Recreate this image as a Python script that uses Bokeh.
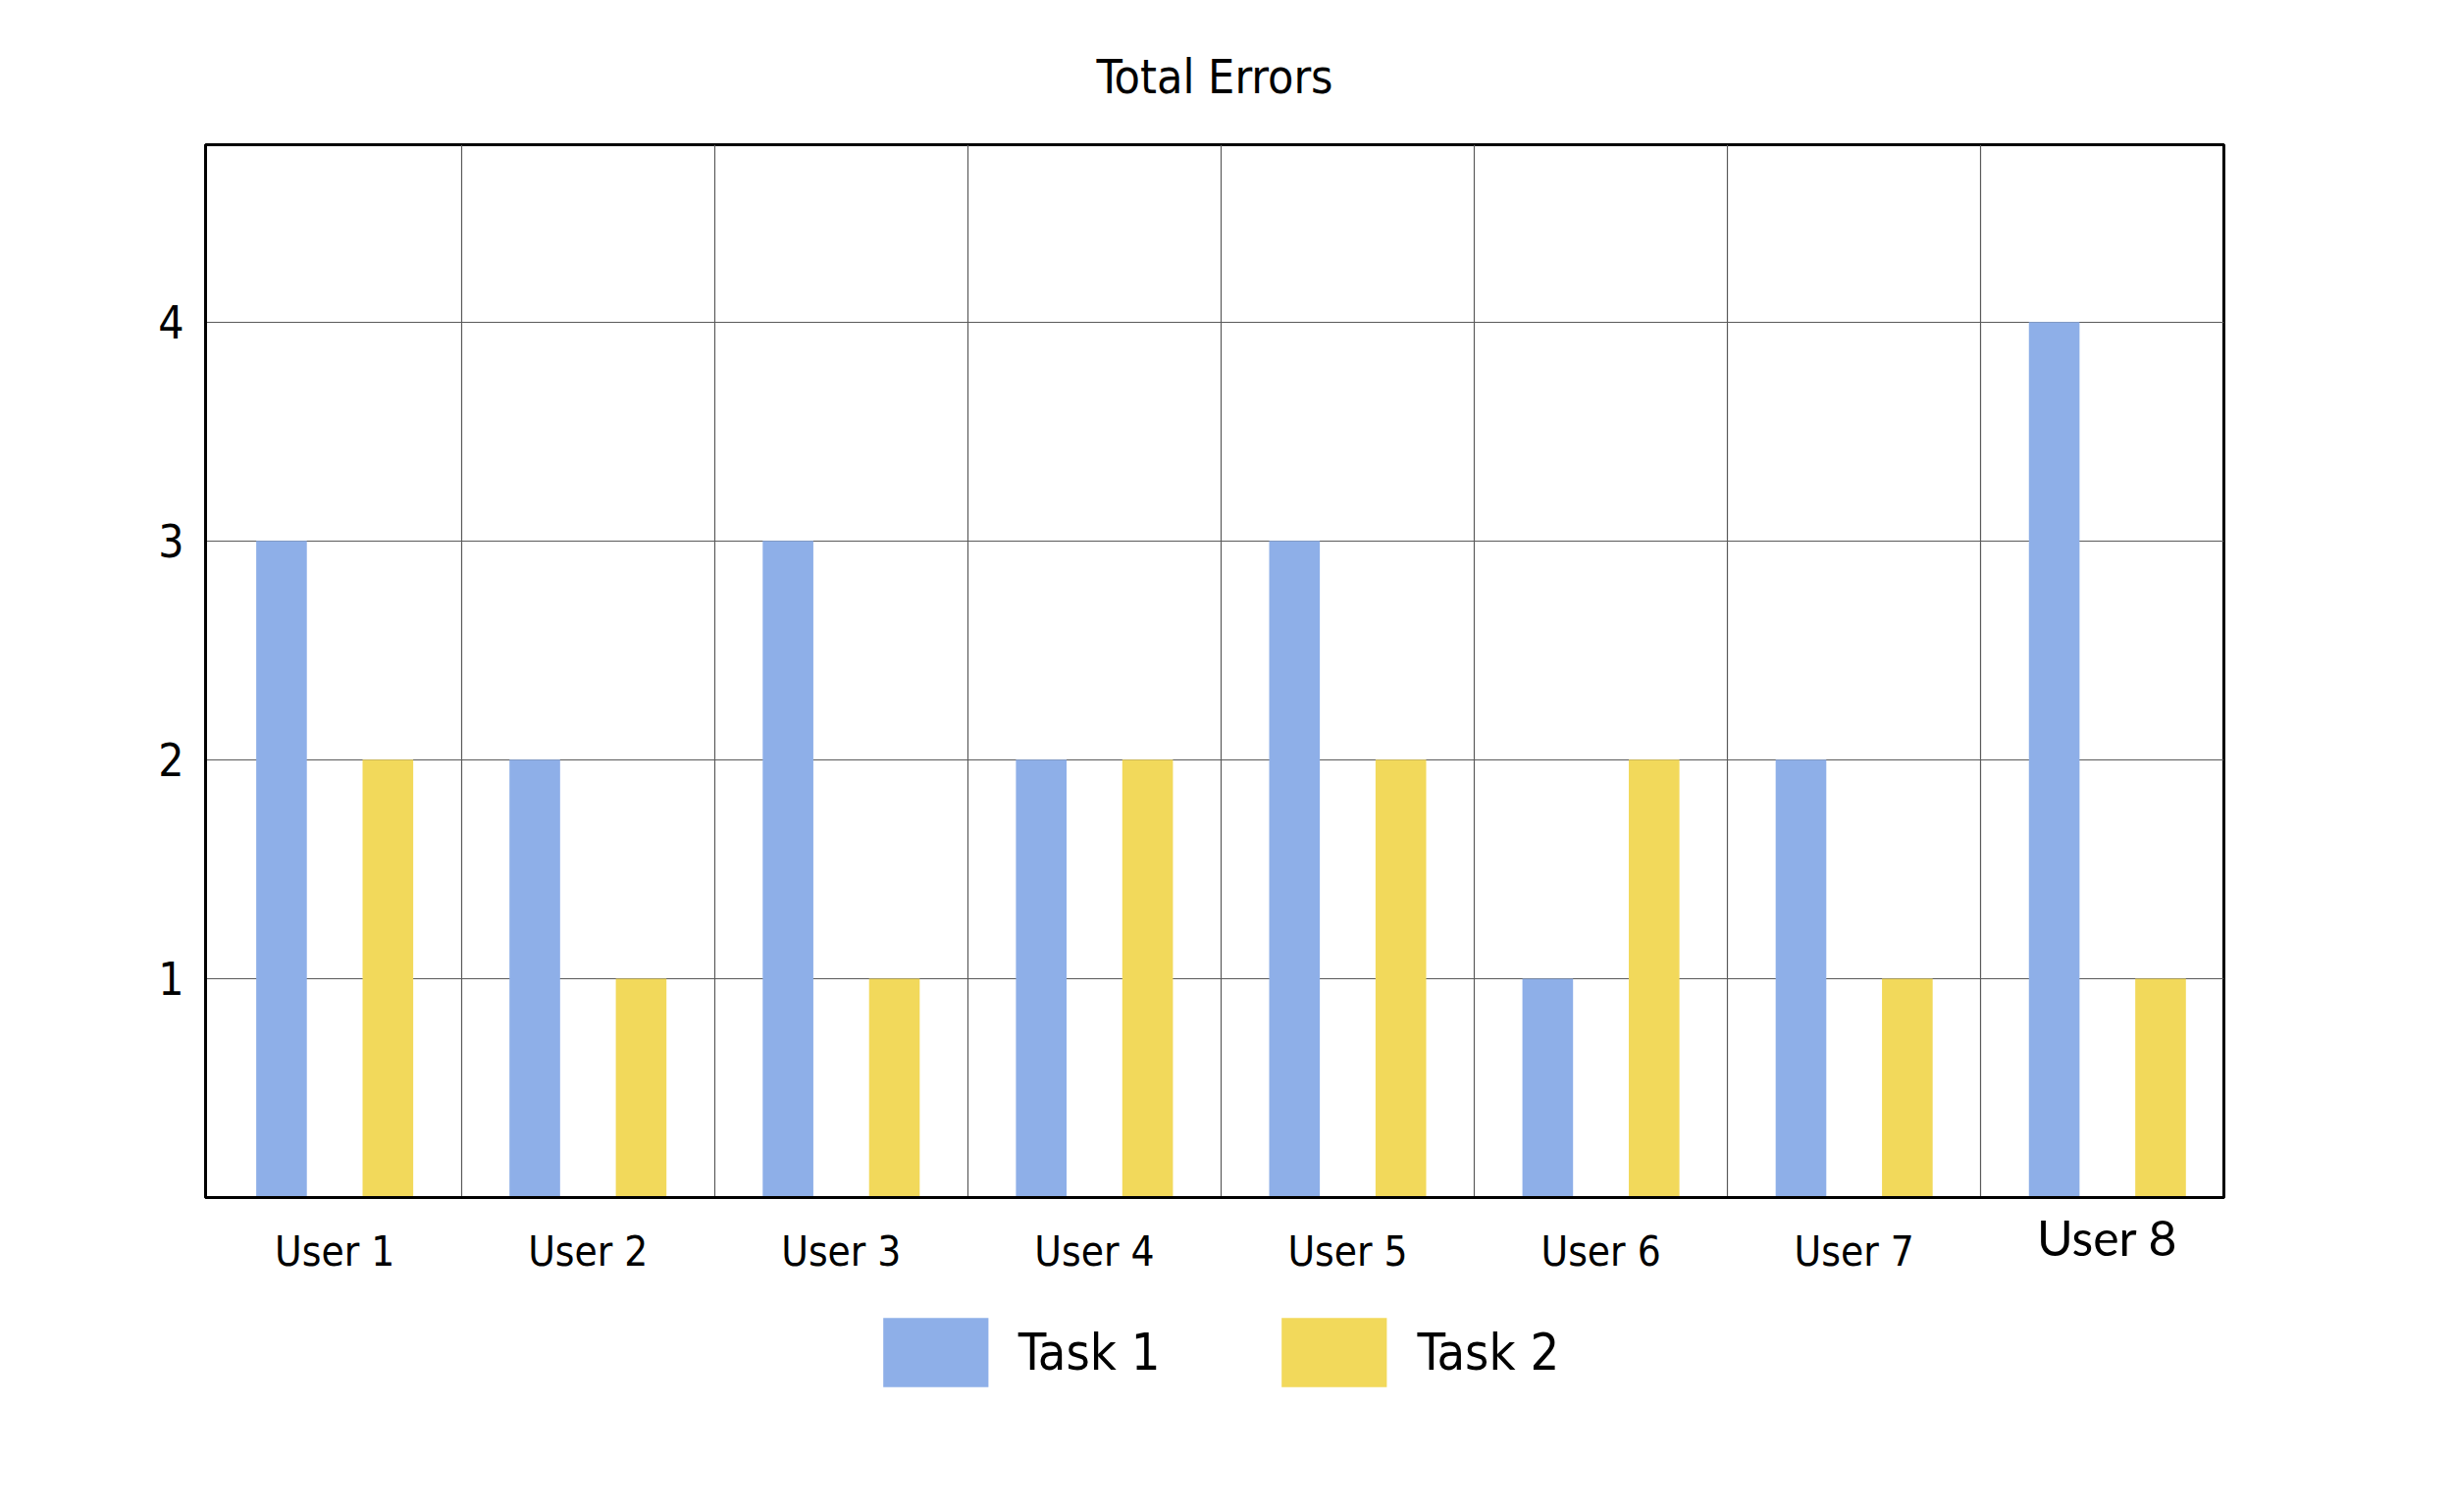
from bokeh.plotting import figure
from bokeh.models import FixedTicker, ColumnDataSource, Range1d, LinearAxis
from bokeh.transform import dodge
from bokeh.embed import file_html
from bokeh.resources import INLINE

users = ["User 1", "User 2", "User 3", "User 4", "User 5", "User 6", "User 7", "User 8"]
task1 = [3, 2, 3, 2, 3, 1, 2, 4]
task2 = [2, 1, 1, 2, 2, 2, 1, 1]
y_ticks = [1, 2, 3, 4]

COND = "DejaVu Sans Condensed"
ODD = "Lato"
BLUE = "#8EAFE8"
YELLOW = "#F2D95B"

idx = list(range(len(users)))
src = ColumnDataSource(dict(idx=idx, task1=task1, task2=task2, user=users))

p = figure(frame_width=2057, frame_height=1073, output_backend="svg", toolbar_location=None,
           x_range=Range1d(-0.51, len(users) - 0.54), y_range=Range1d(0, 4.81),
           min_border_left=209, min_border_right=218, min_border_top=147, min_border_bottom=0)

p.vbar(x=dodge("idx", -0.21, range=p.x_range), top="task1", width=0.2, source=src,
       fill_color=BLUE, line_color=None, legend_label="Task 1")
p.vbar(x=dodge("idx", 0.21, range=p.x_range), top="task2", width=0.2, source=src,
       fill_color=YELLOW, line_color=None, legend_label="Task 2")

# title
p.title.text = "Total Errors"
p.title.align = "center"
p.title.text_font = COND
p.title.text_font_size = "48px"
p.title.text_font_style = "normal"
p.title.text_color = "black"
p.title.standoff = 83

# axes
main_labels = {i: u for i, u in zip(idx, users) if u != "User 8"}
odd_labels = {i: u for i, u in zip(idx, users) if u == "User 8"}
p.xaxis.ticker = FixedTicker(ticks=list(main_labels.keys()))
p.xaxis.major_label_overrides = main_labels
p.yaxis.ticker = FixedTicker(ticks=y_ticks)
for ax in (p.xaxis, p.yaxis):
    ax.axis_line_color = "black"
    ax.axis_line_width = 3
    ax.major_tick_line_color = None
    ax.minor_tick_line_color = None
    ax.major_label_text_color = "black"
    ax.major_label_text_font = COND
p.xaxis.major_label_text_font_size = "42px"
p.xaxis.major_label_standoff = 24
p.yaxis.major_label_text_font_size = "46px"
p.yaxis.major_label_standoff = 16

# second x axis carrying the odd label in another font
ax2 = LinearAxis(ticker=FixedTicker(ticks=list(odd_labels.keys())),
                 major_label_overrides=odd_labels,
                 axis_line_color=None, major_tick_line_color=None, minor_tick_line_color=None,
                 major_label_text_font=ODD, major_label_text_font_size="50px",
                 major_label_text_color="black", major_label_standoff=-78)
p.add_layout(ax2, "below")

# grid
p.xgrid.ticker = FixedTicker(ticks=[i + 0.5 for i in idx[:-1]])
p.ygrid.ticker = FixedTicker(ticks=y_ticks)
for g in (p.xgrid, p.ygrid):
    g.grid_line_color = "#5a5a5a"
    g.grid_line_width = 1.2

p.outline_line_color = "black"
p.outline_line_width = 3
p.background_fill_color = "white"
p.border_fill_color = "white"

# legend below the axes
leg = p.legend[0]
p.center.remove(leg)
leg.orientation = "horizontal"
leg.location = "top_center"
leg.glyph_width = 134
leg.glyph_height = 88
leg.label_standoff = 18
leg.spacing = 110
leg.padding = 0
leg.margin = -104
leg.border_line_color = None
leg.background_fill_alpha = 0
leg.label_text_font = COND
leg.label_text_font_size = "52px"
leg.label_text_color = "black"
p.add_layout(leg, "below")

open("out.html", "w").write(file_html(p, INLINE))
